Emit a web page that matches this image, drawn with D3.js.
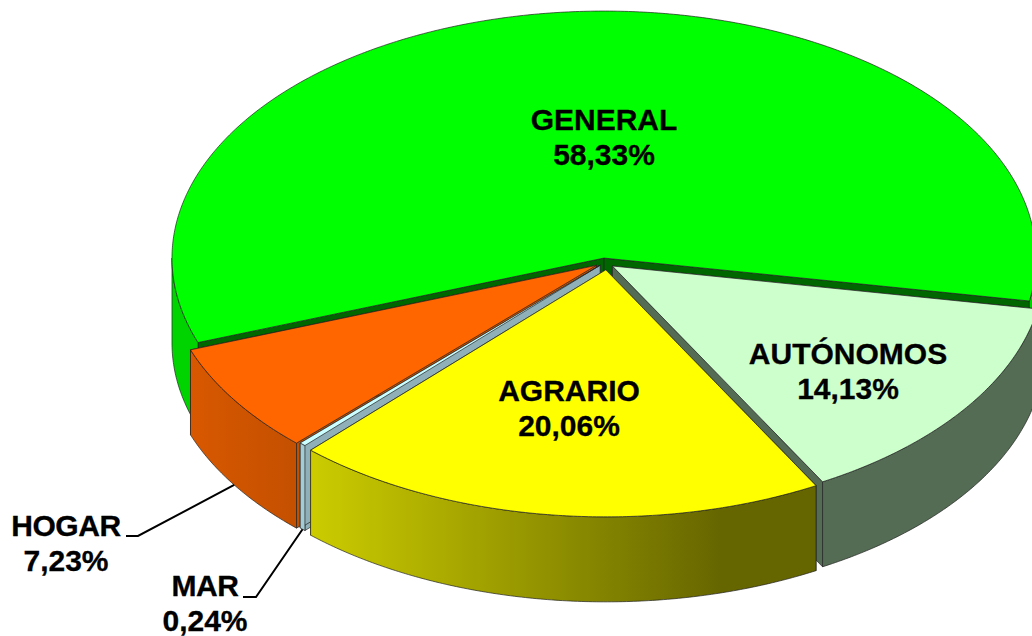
<!doctype html>
<html>
<head>
<meta charset="utf-8">
<title>Regimenes</title>
<style>
body { margin: 0; background: #fff; }
svg { display: block; }
text { font: bold 30px "Liberation Sans", Arial, sans-serif; fill: #000; stroke: #000; stroke-width: 0.3px; text-anchor: middle; }
</style>
<script src="https://cdn.jsdelivr.net/npm/d3@7/dist/d3.min.js"></script>
</head>
<body>
<script>
// data, in drawing order round the pie
var names = ["GENERAL", "AUTÓNOMOS", "AGRARIO", "MAR", "HOGAR"];
var values = [58.33, 14.13, 20.06, 0.24, 7.23];
var percentLabels = ["58,33%", "14,13%", "20,06%", "0,24%", "7,23%"];

// styles
var topColors = ["#00ff00", "#ccffcc", "#ffff00", "#ccffff", "#ff6600"];
var sideLeft = ["#00d400", "#546b54", "#cccc00", "#a4ccd4", "#d85800"];
var sideRight = ["#00d400", "#546b54", "#666600", "#a4ccd4", "#c45000"];
var sideStop = [1, 1, 0.81, 1, 1];
var wallColors = ["#006600", "#546b54", "#666600", "#8fb0b8", "#c45000"];
var explode = [0.016, 0.028, 0.032, 0.018, 0.025];
var nudgeX = [0.6, -1.5, 3.5, 1.5, 1.5];

// layout of the label text: centre x, baseline of first line
var labelX = [604, 848, 569, 205, 66];
var labelY = [130, 364, 401, 596, 536];
var lineGap = 35;

var width = 1032, height = 636;
var cx = 604, cy = 262, rx = 432, ry = 247, depth = 85;

var x = d3.scaleLinear().domain([-1, 1]).range([cx - rx, cx + rx]);
var y = d3.scaleLinear().domain([-1, 1]).range([cy - ry, cy + ry]);

var rad = Math.PI / 180;
var startAngle = 250 * rad;

var pie = d3.pie().sort(null).startAngle(startAngle).endAngle(startAngle + 2 * Math.PI);
var slices = pie(values);

var svg = d3.select("body").append("svg")
    .attr("width", width)
    .attr("height", height);

var defs = svg.append("defs");
var line = d3.line();

// point on the pie at angle t, radius r (unit), for slice i
function pt(i, t, r, down) {
    var mid = (slices[i].startAngle + slices[i].endAngle) / 2;
    var e = explode[i];
    return [
        x(Math.sin(mid) * e + Math.sin(t) * r) + nudgeX[i],
        y(-Math.cos(mid) * e - Math.cos(t) * r) + (down ? depth : 0)
    ];
}

function arcPoints(i, a0, a1, down) {
    var n = Math.max(2, Math.ceil((a1 - a0) / (0.5 * rad)));
    return d3.range(n + 1).map(function(k) {
        return pt(i, a0 + (a1 - a0) * k / n, 1, down);
    });
}

// the drawing order is not the data order, yellow has to cover its neighbours
var order = [0, 1, 4, 3, 2];

order.forEach(function(i) {
    var s = slices[i];
    var g = svg.append("g");
    var centre = pt(i, 0, 0, false), centreDown = pt(i, 0, 0, true);

    // radial walls
    [s.startAngle, s.endAngle].forEach(function(t) {
        var a = pt(i, t, 1, false), b = pt(i, t, 1, true);
        g.append("path")
            .attr("d", line([centre, a, b, centreDown]) + "Z")
            .attr("fill", wallColors[i])
            .attr("stroke", "#222")
            .attr("stroke-width", 0.7);
    });

    // outer side, only the front half of the ellipse shows
    var ranges = [[90 * rad, 270 * rad], [450 * rad, 630 * rad]];
    ranges.forEach(function(rg, k) {
        var a0 = Math.max(s.startAngle, rg[0]), a1 = Math.min(s.endAngle, rg[1]);
        if (a1 <= a0) return;
        var front = arcPoints(i, a0, a1, false);
        var back = arcPoints(i, a0, a1, true).reverse();
        var xs = d3.extent(front, function(p) { return p[0]; });
        var id = "side" + i + "_" + k;
        var grad = defs.append("linearGradient")
            .attr("id", id)
            .attr("gradientUnits", "userSpaceOnUse")
            .attr("x1", xs[0]).attr("x2", xs[1])
            .attr("y1", 0).attr("y2", 0);
        grad.append("stop").attr("offset", 0).attr("stop-color", sideLeft[i]);
        grad.append("stop").attr("offset", sideStop[i]).attr("stop-color", sideRight[i]);
        g.append("path")
            .attr("d", line(front.concat(back)) + "Z")
            .attr("fill", "url(#" + id + ")")
            .attr("stroke", "#222")
            .attr("stroke-width", 0.7);
    });

    // top face
    g.append("path")
        .attr("d", line([centre].concat(arcPoints(i, s.startAngle, s.endAngle, false))) + "Z")
        .attr("fill", topColors[i])
        .attr("stroke", "#222")
        .attr("stroke-width", 0.7);
});

// leader lines for the two outside labels
var elbowX = [null, null, null, 256, 138];
var elbowY = [null, null, null, 597, 536];
var tailX = [null, null, null, 243, 126];

[3, 4].forEach(function(i) {
    var s = slices[i];
    var mid = (s.startAngle + s.endAngle) / 2;
    svg.append("path")
        .attr("d", line([pt(i, mid, 1, true), [elbowX[i], elbowY[i]], [tailX[i], elbowY[i]]]))
        .attr("fill", "none")
        .attr("stroke", "#000")
        .attr("stroke-width", 2);
});

// labels
names.forEach(function(name, i) {
    svg.append("text").attr("x", labelX[i]).attr("y", labelY[i])
        .style("letter-spacing", i >= 3 ? "-0.4px" : null)
        .text(name);
    svg.append("text").attr("x", labelX[i]).attr("y", labelY[i] + lineGap).text(percentLabels[i]);
});
</script>
</body>
</html>
